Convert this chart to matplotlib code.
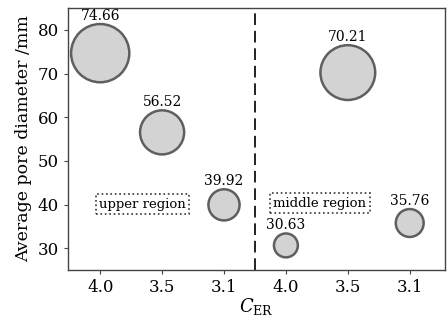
import matplotlib
matplotlib.use('Agg')
import matplotlib.pyplot as plt

# data
x_labels = ['4.0', '3.5', '3.1', '4.0', '3.5', '3.1']
diameters = [74.66, 56.52, 39.92, 30.63, 70.21, 35.76]
regions = ['upper region', 'middle region']

plt.rcParams['font.family'] = ['DejaVu Serif']
plt.rcParams['mathtext.fontset'] = 'dejavuserif'

fig = plt.figure(figsize=(4.48, 3.21), dpi=100)
ax = fig.add_axes([68 / 448, 1 - 270 / 321, 377 / 448, 262 / 321])

pos = list(range(len(diameters)))
# marker diameter (in points) proportional to value
sizes = [(0.78 * v * 0.72) ** 2 for v in diameters]
ax.scatter(pos, diameters, s=sizes, facecolor='#d3d3d3', edgecolor='#5f5f5f',
           linewidth=1.8, zorder=3)

for p, v, s in zip(pos, diameters, sizes):
    r = s ** 0.5 / 2
    ax.annotate(f'{v:.2f}', xy=(p, v), xytext=(0, r + 3), textcoords='offset points',
                ha='center', va='baseline', fontsize=10)

ax.axvline(2.5, color='#222222', linestyle=(0, (6, 3)), linewidth=1.4)

box = dict(boxstyle='square,pad=0.25', facecolor='white', edgecolor='#333333',
           linestyle=':', linewidth=1.2)
ax.text(0.68, 40.1, regions[0], ha='center', va='center', fontsize=9.5, bbox=box)
ax.text(3.55, 40.3, regions[1], ha='center', va='center', fontsize=9.5, bbox=box)

ax.set_xlim(-0.52, 5.57)
ax.set_ylim(25, 85)
ax.set_xticks(pos)
ax.set_xticklabels(x_labels)
ax.set_yticks([30, 40, 50, 60, 70, 80])
ax.tick_params(labelsize=12, length=3, color='#444444')
ax.set_ylabel('Average pore diameter /mm', fontsize=12.5)
ax.set_xlabel(r'$C_{\rm ER}$', fontsize=13, labelpad=0)
for sp in ax.spines.values():
    sp.set_color('#444444')
    sp.set_linewidth(1.0)

fig.savefig('out.png', dpi=100)
